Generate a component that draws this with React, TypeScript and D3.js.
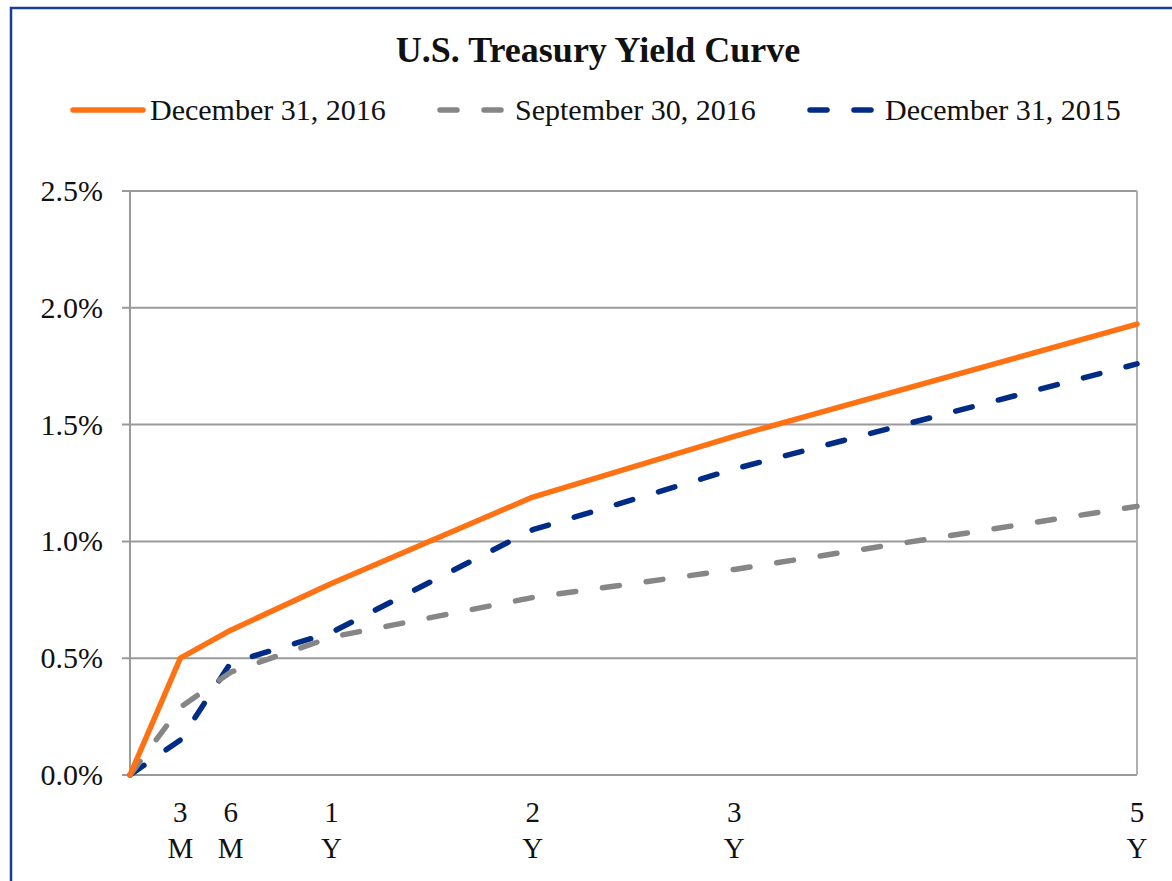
import * as d3 from "d3";

// maturities in years, with their two-line labels
const MATURITIES = [0, 0.25, 0.5, 1, 2, 3, 5];
const TICK_TOP = ["", "3", "6", "1", "2", "3", "5"];
const TICK_BOTTOM = ["", "M", "M", "Y", "Y", "Y", "Y"];

const DEC_2016 = [0, 0.5, 0.62, 0.82, 1.19, 1.45, 1.93];
const SEP_2016 = [0, 0.29, 0.44, 0.59, 0.76, 0.88, 1.15];
const DEC_2015 = [0, 0.15, 0.48, 0.61, 1.05, 1.31, 1.76];

const SERIES_NAMES = ["December 31, 2016", "September 30, 2016", "December 31, 2015"];
const Y_TICKS = [0, 0.5, 1, 1.5, 2, 2.5];

const COLORS = ["#ff7214", "#868686", "#002c85"];
const DASHED = [false, true, true];

const W = 1172;
const H = 881;
const PLOT = { left: 130, right: 1137, top: 191, bottom: 775 };
const FONT = "'Liberation Serif', 'Times New Roman', serif";

export default function App() {
  const x = d3.scaleLinear().domain([0, 5]).range([PLOT.left, PLOT.right]);
  const y = d3.scaleLinear().domain([0, 2.5]).range([PLOT.bottom, PLOT.top]);

  const series = [DEC_2016, SEP_2016, DEC_2015];
  const line = d3
    .line<number>()
    .x((_, i) => x(MATURITIES[i]))
    .y((d) => y(d));

  // legend layout
  const legend = [
    { x1: 73, x2: 143, tx: 150 },
    { x1: 440, x2: 505, tx: 515 },
    { x1: 810, x2: 875, tx: 885 },
  ];

  return (
    <svg
      width={W}
      height={H}
      style={{ position: "absolute", left: 0, top: 0, background: "#fff" }}
      fontFamily={FONT}
    >
      {/* outer frame */}
      <path
        d={`M11,${H + 5} L11,8 L${W + 5},8`}
        fill="none"
        stroke="#1c3b93"
        strokeWidth={2.5}
      />

      <text
        x={598}
        y={62}
        textAnchor="middle"
        fontSize={36}
        fontWeight="bold"
        fill="#111"
      >
        U.S. Treasury Yield Curve
      </text>

      {SERIES_NAMES.map((name, i) => (
        <g key={name}>
          <line
            x1={legend[i].x1}
            x2={legend[i].x2}
            y1={110}
            y2={110}
            stroke={COLORS[i]}
            strokeWidth={5.5}
            strokeLinecap="round"
            strokeDasharray={DASHED[i] ? "17 27" : undefined}
          />
          <text x={legend[i].tx} y={120} fontSize={30} fill="#111">
            {name}
          </text>
        </g>
      ))}

      {/* grid + y axis */}
      {Y_TICKS.map((t) => (
        <g key={t}>
          <line
            x1={PLOT.left - 8}
            x2={PLOT.right}
            y1={y(t)}
            y2={y(t)}
            stroke="#9a9a9a"
            strokeWidth={2}
          />
          <text
            x={103}
            y={y(t) + 10}
            textAnchor="end"
            fontSize={30}
            fill="#111"
          >
            {d3.format(".1%")(t / 100)}
          </text>
        </g>
      ))}
      <line
        x1={PLOT.left}
        x2={PLOT.left}
        y1={PLOT.top}
        y2={PLOT.bottom}
        stroke="#9a9a9a"
        strokeWidth={2}
      />
      <line
        x1={PLOT.right}
        x2={PLOT.right}
        y1={PLOT.top}
        y2={PLOT.bottom}
        stroke="#b0b0b0"
        strokeWidth={2}
      />

      {MATURITIES.map((m, i) =>
        TICK_TOP[i] ? (
          <g key={m}>
            <text x={x(m)} y={822} textAnchor="middle" fontSize={29} fill="#111">
              {TICK_TOP[i]}
            </text>
            <text x={x(m)} y={858} textAnchor="middle" fontSize={29} fill="#111">
              {TICK_BOTTOM[i]}
            </text>
          </g>
        ) : null
      )}

      {/* draw back to front: Dec 2015 first, then Sep 2016, then Dec 2016 */}
      {[2, 1, 0].map((i) => (
        <path
          key={SERIES_NAMES[i]}
          d={line(series[i]) ?? ""}
          fill="none"
          stroke={COLORS[i]}
          strokeWidth={5.5}
          strokeLinecap="round"
          strokeLinejoin="round"
          strokeDasharray={DASHED[i] ? "17 27" : undefined}
        />
      ))}
    </svg>
  );
}
